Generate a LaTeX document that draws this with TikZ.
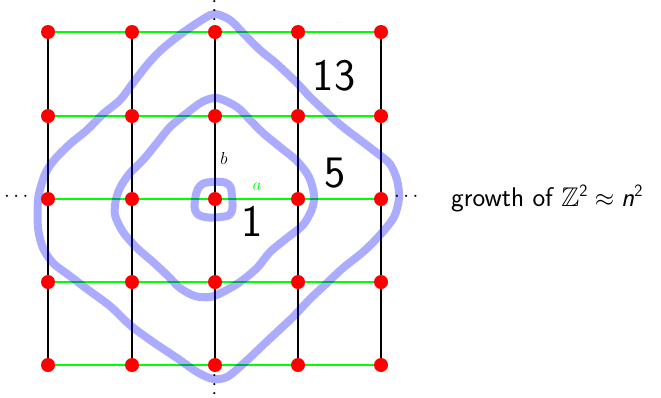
\documentclass[tikz,border=0pt]{standalone}
\usepackage{amsmath,amssymb}
\begin{document}
\begin{tikzpicture}[x=1pt,y=-1pt,
  gridv/.style={draw=black,line width=1.2pt},
  gridh/.style={draw=green,line width=1.2pt},
  dotnode/.style={circle,fill=red,inner sep=0pt,minimum size=14pt},
  sphere/.style={draw=blue,opacity=0.33,line width=8pt,line cap=round,line join=round},
  bignum/.style={font=\sffamily\fontsize{45}{45}\selectfont,anchor=base,inner sep=0pt},
  dotsnode/.style={font=\fontsize{20}{20}\selectfont,inner sep=0pt},
  lbl/.style={font=\fontsize{16}{16}\selectfont,inner sep=0pt}]
\useasboundingbox (0,0) rectangle (661,397);
\foreach \i/\x in {0/48,1/132,2/215,3/298,4/381}
  \foreach \j/\y in {0/32,1/116,2/199,3/282,4/365}
    \coordinate (p\i\j) at (\x,\y);
% vertical black lines
\foreach \i in {0,...,4} \draw[gridv] (p\i0) -- (p\i4);
% horizontal green lines
\foreach \j in {0,...,4} \draw[gridh] (p0\j) -- (p4\j);
% spheres
\draw[sphere] plot[smooth cycle,tension=0.5] coordinates {
 (214,14) (230,20) (243,33) (260,50) (277,64) (297,83) (310,97) (327,113) (343,127)
 (360,140) (377,153) (390,164) (397,180) (399,198) (394,217) (380,235) (363,252)
 (343,268) (327,283) (310,299) (293,317) (277,332) (260,348) (243,364) (227,377)
 (213,379) (197,372) (177,358) (153,342) (130,325) (110,306) (87,289) (70,276)
 (53,263) (43,248) (38,228) (38,200) (41,186) (46,172) (55,159) (70,144) (87,130)
 (103,114) (120,100) (133,83) (147,65) (160,51) (177,37) (197,23)};
\draw[sphere] plot[smooth cycle,tension=0.5] coordinates {
 (217,98) (237,107) (250,120) (263,133) (280,147) (297,161) (309,177) (314,195)
 (312,209) (303,225) (287,238) (270,252) (257,268) (240,282) (223,292) (210,297)
 (195,296) (180,288) (167,275) (153,262) (137,248) (123,232) (115,215) (116,199)
 (121,186) (130,173) (143,160) (157,143) (170,127) (187,113) (202,102)};
\draw[sphere] plot[smooth cycle,tension=0.7] coordinates {
 (212,182) (228,184) (232,197) (231,213) (220,217) (205,217) (196,212) (195,200) (200,186)};
% dots
\foreach \i in {0,...,4}
  \foreach \j in {0,...,4}
    \node[dotnode] (d\i\j) at (p\i\j) {};
% ellipses
\node[dotsnode] (el) at (18,197) {$\cdots$};
\node[dotsnode] (er) at (408,197) {$\cdots$};
\node[dotsnode,rotate=90] (et) at (215,9) {$\cdots$};
\node[dotsnode,rotate=90] (eb) at (215,383) {$\cdots$};
\node[font=\fontsize{5}{5}\selectfont,text=gray,inner sep=0pt] (tiny) at (339,23) {..};
% labels
\node[lbl] (lb) at (224,158) {$b$};
\node[lbl,text=green] (la) at (257,187) {$a$};
\node[bignum] (n13) at (334,90) {13};
\node[bignum] (n5) at (335,187) {5};
\node[bignum] (n1) at (252,236) {1};
\node[anchor=base west,inner sep=0pt,font=\sffamily\fontsize{27}{32}\selectfont] (title) at (451,206)
  {growth of $\mathbb{Z}^{\mathsf{2}} \approx \text{\sffamily\itshape n}^{\mathsf{2}}$};
\end{tikzpicture}
\end{document}
